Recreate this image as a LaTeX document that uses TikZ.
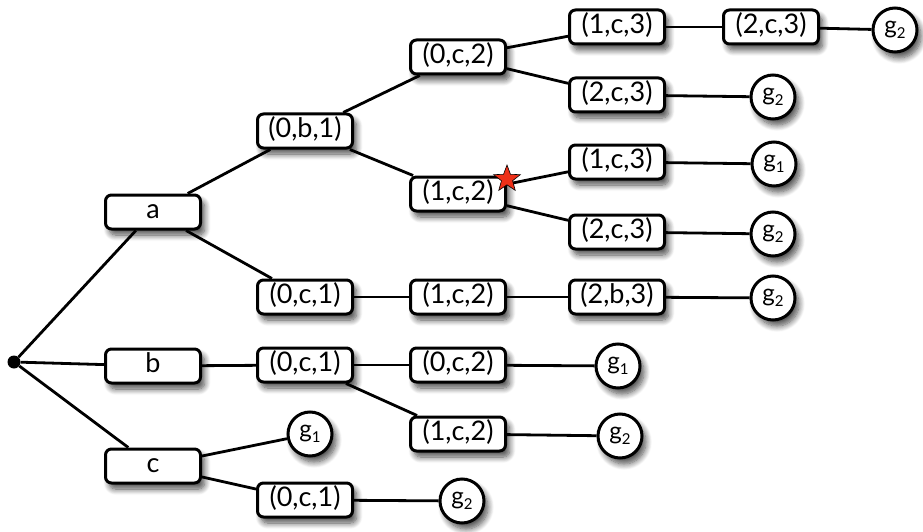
\documentclass[tikz,border=0pt]{standalone}
\usepackage{fontspec}
\setmainfont{Lato}
\usetikzlibrary{shadows.blur,shapes.geometric,backgrounds}
\definecolor{starred}{RGB}{238,48,24}
\begin{document}
\begin{tikzpicture}[x=1pt,y=-1pt,
  soft/.style={blur shadow={shadow xshift=4pt, shadow yshift=-6pt, shadow blur steps=10, shadow opacity=70, shadow blur radius=6pt}},
  state/.style={draw, line width=3pt, rounded corners=6pt, fill=white, soft,
    minimum width=95pt, minimum height=34pt, inner sep=0pt,
    text height=18pt, text depth=5pt, font=\fontsize{27}{27}\selectfont},
  goal/.style={draw, circle, line width=3pt, fill=white, soft,
    minimum size=44pt, inner sep=0pt, font=\fontsize{24}{24}\selectfont},
  link/.style={line width=2.8pt}]
\useasboundingbox (0,0) rectangle (923,532);
\newcommand{\gsub}[1]{g\raisebox{-0.35ex}{\fontsize{15}{15}\selectfont #1}}

% root of the search tree
\node[circle, fill=black, minimum size=13pt, inner sep=0pt] (root) at (14,362) {};

% first level
\node[state] (a) at (153,212) {a};
\node[state] (b) at (153,366) {b};
\node[state] (c) at (153,466) {c};

% second level
\node[state] (ab1) at (305,131) {(0,b,1)};
\node[state] (ac1) at (305,297) {(0,c,1)};
\node[state] (bc1) at (305,365) {(0,c,1)};
\node[goal]  (cg1) at (310,434) {\gsub{1}};
\node[state] (cc1) at (305,500) {(0,c,1)};

% third level
\node[state] (a0c2) at (458,57) {(0,c,2)};
\node[state] (a1c2) at (458,194) {(1,c,2)};
\node[state] (r1c2) at (458,297) {(1,c,2)};
\node[state] (b0c2) at (458,365) {(0,c,2)};
\node[state] (b1c2) at (458,434) {(1,c,2)};
\node[goal]  (cg2) at (462,501) {\gsub{2}};

% fourth level
\node[state] (t1c3) at (617,27) {(1,c,3)};
\node[state] (t2c3) at (617,95) {(2,c,3)};
\node[state] (m1c3) at (617,162) {(1,c,3)};
\node[state] (m2c3) at (617,232) {(2,c,3)};
\node[state] (r2b3) at (617,297) {(2,b,3)};
\node[goal]  (bg1) at (618,366) {\gsub{1}};
\node[goal]  (bg2) at (620,436) {\gsub{2}};

% fifth level
\node[state] (u2c3) at (771,27) {(2,c,3)};
\node[goal]  (tg2) at (773,97) {\gsub{2}};
\node[goal]  (mg1) at (774,164) {\gsub{1}};
\node[goal]  (mg2) at (773,234) {\gsub{2}};
\node[goal]  (rg2) at (773,298) {\gsub{2}};

% sixth level
\node[goal]  (ug2) at (895,30) {\gsub{2}};

% marked state
\node[star, star points=5, star point ratio=2.4, fill=starred, draw=black,
  line width=0.6pt, minimum size=28pt, inner sep=0pt] (mark) at (507,179) {};

\begin{scope}[on background layer]
  \draw[link] (root) -- (a);
  \draw[link] (root) -- (b);
  \draw[link] (root) -- (c);
  \draw[link] (a) -- (ab1);
  \draw[link] (a) -- (ac1);
  \draw[link] (ab1) -- (a0c2);
  \draw[link] (ab1) -- (a1c2);
  \draw[link] (a0c2) -- (t1c3);
  \draw[link] (a0c2) -- (t2c3);
  \draw[link] (t1c3) -- (u2c3);
  \draw[link] (u2c3) -- (ug2);
  \draw[link] (t2c3) -- (tg2);
  \draw[link] (a1c2) -- (m1c3);
  \draw[link] (a1c2) -- (m2c3);
  \draw[link] (m1c3) -- (mg1);
  \draw[link] (m2c3) -- (mg2);
  \draw[link] (ac1) -- (r1c2);
  \draw[link] (r1c2) -- (r2b3);
  \draw[link] (r2b3) -- (rg2);
  \draw[link] (b) -- (bc1);
  \draw[link] (bc1) -- (b0c2);
  \draw[link] (b0c2) -- (bg1);
  \draw[link] (bc1) -- (b1c2);
  \draw[link] (b1c2) -- (bg2);
  \draw[link] (c) -- (cg1);
  \draw[link] (c) -- (cc1);
  \draw[link] (cc1) -- (cg2);
\end{scope}
\end{tikzpicture}
\end{document}
